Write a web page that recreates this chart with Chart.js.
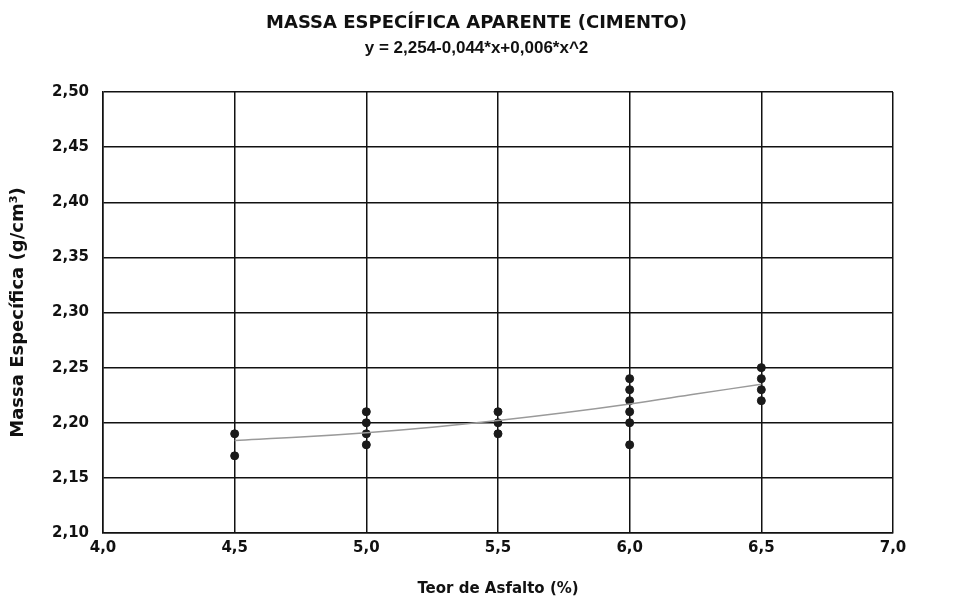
<!DOCTYPE html>
<html lang="pt">
<head>
  <meta charset="UTF-8" />
  <title>Massa Específica Aparente (Cimento)</title>
  <script src="https://cdn.jsdelivr.net/npm/chart.js"></script>
  <style>
    body { margin: 0; background: #fff; }
  </style>
</head>
<body>
  <canvas id="grafico" width="953" height="602"></canvas>

  <script>
    // pontos medidos
    const teorPontos = [4.5, 4.5, 5.0, 5.0, 5.0, 5.0, 5.5, 5.5, 5.5, 6.0, 6.0, 6.0, 6.0, 6.0, 6.0, 6.5, 6.5, 6.5, 6.5];
    const massaPontos = [2.19, 2.17, 2.21, 2.20, 2.19, 2.18, 2.21, 2.20, 2.19, 2.24, 2.23, 2.22, 2.21, 2.20, 2.18, 2.25, 2.24, 2.23, 2.22];

    // curva ajustada
    const teorCurva = [4.5, 4.75, 5.0, 5.25, 5.5, 5.75, 6.0, 6.25, 6.5];
    const massaCurva = [2.184, 2.187, 2.191, 2.196, 2.202, 2.209, 2.217, 2.226, 2.235];

    const titulo = 'MASSA ESPECÍFICA APARENTE (CIMENTO)';
    const subtitulo = 'y = 2,254-0,044*x+0,006*x^2';
    const tituloX = 'Teor de Asfalto (%)';
    const tituloY = 'Massa Específica (g/cm³)';

    const virgula = (v, d) => Number(v).toFixed(d).replace('.', ',');

    const familia = '"DejaVu Sans", Arial, sans-serif';
    const fonte = { family: familia, weight: 'bold', size: 15 };

    const ctx = document.getElementById('grafico').getContext('2d');
    new Chart(ctx, {
      type: 'scatter',
      data: {
        datasets: [
          {
            label: 'Curva',
            data: teorCurva.map((x, i) => ({ x: x, y: massaCurva[i] })),
            showLine: true,
            borderColor: '#9a9a9a',
            borderWidth: 1.5,
            pointRadius: 0,
            tension: 0.4
          },
          {
            label: 'Pontos',
            data: teorPontos.map((x, i) => ({ x: x, y: massaPontos[i] })),
            backgroundColor: '#1a1a1a',
            borderColor: '#1a1a1a',
            pointRadius: 4
          }
        ]
      },
      options: {
        responsive: false,
        animation: false,
        layout: { padding: { top: 6, right: 0, left: 0, bottom: 0 } },
        plugins: {
          legend: { display: false },
          tooltip: { enabled: false },
          title: {
            display: true,
            text: titulo,
            color: '#111',
            font: { family: familia, weight: 'bold', size: 18, lineHeight: 1.2 },
            padding: { top: 7, bottom: 3 }
          },
          subtitle: {
            display: true,
            text: subtitulo,
            color: '#111',
            font: { family: '"Liberation Sans", Arial, sans-serif', weight: 'bold', size: 17, lineHeight: 1.2 },
            padding: { top: 1, bottom: 33 }
          }
        },
        scales: {
          x: {
            type: 'linear',
            min: 4,
            max: 7,
            afterFit: (s) => { s.height = 69; },
            border: { color: '#111', width: 1.5 },
            grid: { color: '#111', lineWidth: 1.5, drawTicks: false },
            ticks: {
              stepSize: 0.5,
              color: '#111',
              font: fonte,
              padding: 6,
              callback: (v) => virgula(v, 1)
            },
            title: {
              display: true,
              text: tituloX,
              color: '#111',
              font: fonte,
              padding: { top: 12 }
            }
          },
          y: {
            min: 2.10,
            max: 2.50,
            afterFit: (s) => { s.width = 103; },
            border: { color: '#111', width: 1.5 },
            grid: { color: '#111', lineWidth: 1.5, drawTicks: false },
            ticks: {
              stepSize: 0.05,
              color: '#111',
              font: fonte,
              padding: 14,
              callback: (v) => virgula(v, 2)
            },
            title: {
              display: true,
              text: tituloY,
              color: '#111',
              font: { family: familia, weight: 'bold', size: 18 },
              padding: { top: 8, bottom: 4 }
            }
          },
          // eixo vazio à direita só para reservar a margem
          margem: {
            type: 'linear',
            position: 'right',
            afterFit: (s) => { s.width = 60; },
            border: { display: false },
            grid: { display: false },
            ticks: { display: false }
          }
        }
      }
    });
  </script>
</body>
</html>
